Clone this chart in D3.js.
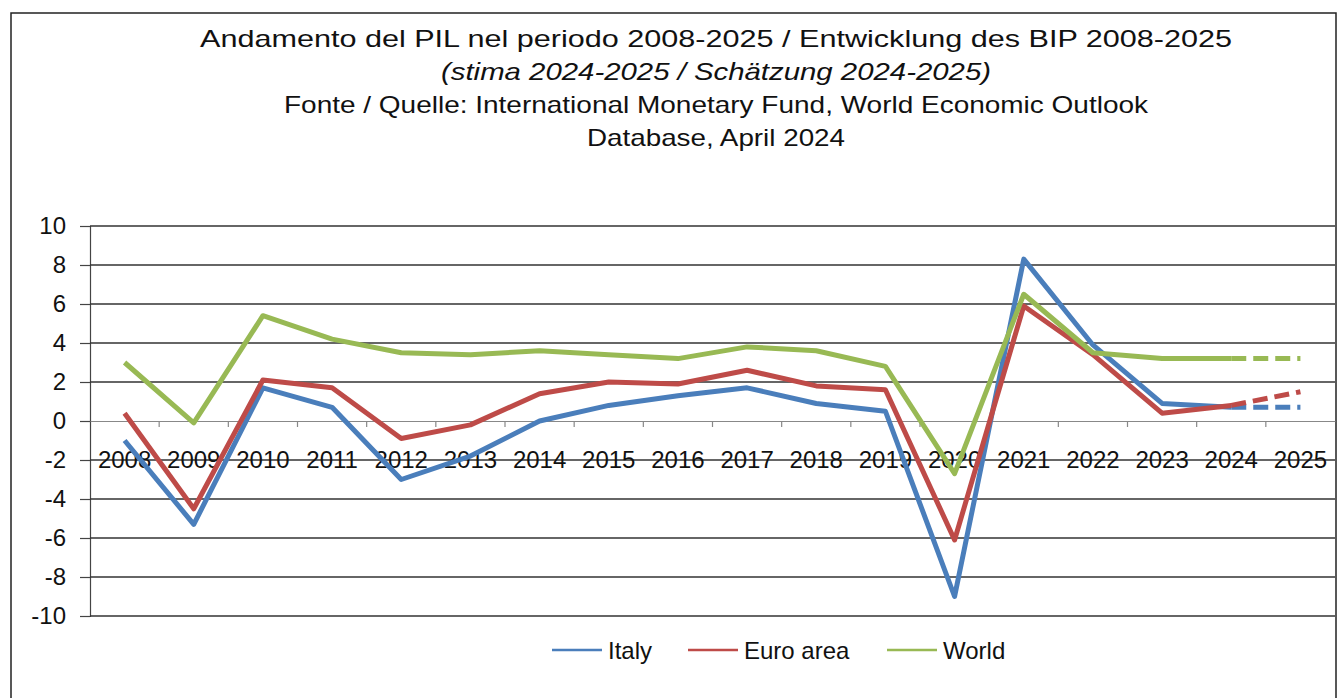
<!DOCTYPE html>
<html>
<head>
<meta charset="utf-8">
<script src="https://cdn.jsdelivr.net/npm/d3@7"></script>
<style>
  body { margin: 0; background: #fff; }
  svg { display: block; font-family: Arial, "Liberation Sans", sans-serif; }
</style>
</head>
<body>
<div id="chart"></div>
<script>
const years = ['2008','2009','2010','2011','2012','2013','2014','2015','2016','2017','2018','2019','2020','2021','2022','2023','2024','2025'];
const italy = [-1.0,-5.3,1.7,0.7,-3.0,-1.8,0.0,0.8,1.3,1.7,0.9,0.5,-9.0,8.3,3.9,0.9,0.7,0.7];
const euroArea = [0.4,-4.5,2.1,1.7,-0.9,-0.2,1.4,2.0,1.9,2.6,1.8,1.6,-6.1,5.9,3.4,0.4,0.8,1.5];
const world = [3.0,-0.1,5.4,4.2,3.5,3.4,3.6,3.4,3.2,3.8,3.6,2.8,-2.7,6.5,3.5,3.2,3.2,3.2];
const yTicks = [-10,-8,-6,-4,-2,0,2,4,6,8,10];
const seriesNames = ['Italy','Euro area','World'];
const seriesColors = ['#4A7EBB','#BE4B48','#98B954'];
const titleLines = [
  'Andamento del PIL nel periodo 2008-2025 / Entwicklung des BIP 2008-2025',
  '(stima 2024-2025 / Schätzung 2024-2025)',
  'Fonte / Quelle: International Monetary Fund, World Economic Outlook',
  'Database, April 2024'
];
const estimateFrom = '2024';

const W = 1338, H = 698;
const plot = {left: 90, right: 1335, top: 226, bottom: 616};

const svg = d3.select('#chart').append('svg')
  .attr('width', W).attr('height', H);

// frame
svg.append('path')
  .attr('d', `M11,${H} L11,13 L1336,13 L1336,${H}`)
  .attr('fill', 'none').attr('stroke', '#222').attr('stroke-width', 1.5);

// title
const titleWidths = [1032, 550, 864, 258];
svg.selectAll('.title')
  .data(titleLines)
  .enter().append('text')
  .attr('class', 'title')
  .attr('x', 716)
  .attr('y', (d, i) => 47 + i * 33)
  .attr('text-anchor', 'middle')
  .attr('font-size', 24)
  .attr('font-style', (d, i) => i === 1 ? 'italic' : 'normal')
  .attr('textLength', (d, i) => titleWidths[i])
  .attr('lengthAdjust', 'spacingAndGlyphs')
  .attr('fill', '#111')
  .text(d => d);

const x = d3.scaleBand().domain(years).range([plot.left, plot.right]);
const y = d3.scaleLinear().domain([-10, 10]).range([plot.bottom, plot.top]);

// gridlines + y axis
const yAxis = svg.append('g')
  .attr('transform', `translate(${plot.left},0)`)
  .call(d3.axisLeft(y).tickValues(yTicks).tickFormat(d => String(d)).tickSize(10).tickPadding(14));
yAxis.select('.domain').attr('stroke', '#444').attr('stroke-width', 1.2);
yAxis.selectAll('.tick line').attr('stroke', '#444').attr('stroke-width', 1.2);
yAxis.selectAll('.tick text').attr('font-size', 24).attr('fill', '#111')
  .attr('font-family', 'Arial, "Liberation Sans", sans-serif');

svg.append('g').selectAll('line')
  .data(yTicks.filter(t => t !== 0))
  .enter().append('line')
  .attr('x1', plot.left).attr('x2', plot.right)
  .attr('y1', d => y(d)).attr('y2', d => y(d))
  .attr('stroke', '#333').attr('stroke-width', 1.3);

// x axis on zero line
const xAxis = svg.append('g')
  .attr('transform', `translate(0,${y(0)})`)
  .call(d3.axisBottom(x).tickSize(0).tickPadding(30));
xAxis.select('.domain').attr('stroke', '#888').attr('stroke-width', 1.2);
xAxis.selectAll('.tick text').attr('font-size', 24).attr('fill', '#111')
  .attr('font-family', 'Arial, "Liberation Sans", sans-serif');
xAxis.selectAll('.bound')
  .data(years.slice(1))
  .enter().append('line')
  .attr('x1', d => x(d)).attr('x2', d => x(d))
  .attr('y1', 0).attr('y2', 6)
  .attr('stroke', '#888').attr('stroke-width', 1.2);

// lines
const allSeries = [italy, euroArea, world];
const line = d3.line()
  .x(d => x(d.year) + x.bandwidth() / 2)
  .y(d => y(d.value));
const cut = years.indexOf(estimateFrom);

allSeries.forEach((vals, s) => {
  const pts = years.map((yr, i) => ({year: yr, value: vals[i]}));
  svg.append('path')
    .datum(pts.slice(0, cut + 1))
    .attr('d', line)
    .attr('fill', 'none')
    .attr('stroke', seriesColors[s])
    .attr('stroke-width', 5)
    .attr('stroke-linejoin', 'round');
  svg.append('path')
    .datum(pts.slice(cut))
    .attr('d', line)
    .attr('fill', 'none')
    .attr('stroke', seriesColors[s])
    .attr('stroke-width', 5)
    .attr('stroke-dasharray', '15,7');
});

// legend
const legendX = [552, 688, 887];
const legend = svg.append('g').selectAll('g')
  .data(seriesNames)
  .enter().append('g')
  .attr('transform', (d, i) => `translate(${legendX[i]},650)`);
legend.append('line')
  .attr('x1', 0).attr('x2', 50).attr('y1', 0).attr('y2', 0)
  .attr('stroke', (d, i) => seriesColors[i]).attr('stroke-width', 2.5);
legend.append('text')
  .attr('x', 56).attr('y', 9)
  .attr('font-size', 24).attr('fill', '#111')
  .text(d => d);
</script>
</body>
</html>
